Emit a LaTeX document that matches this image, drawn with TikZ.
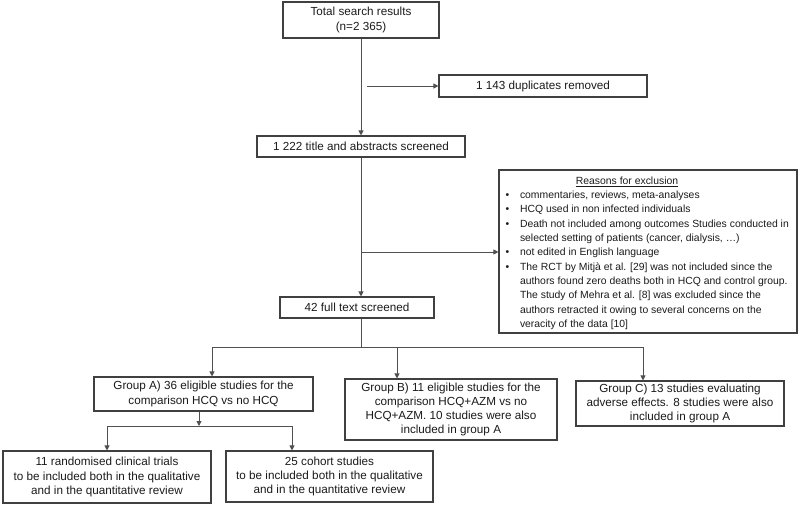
\documentclass[tikz,border=0pt]{standalone}
\usepackage{fontspec}
\setmainfont{Liberation Sans}
\usetikzlibrary{arrows.meta,calc}
\definecolor{boxc}{HTML}{404040}
\definecolor{linec}{HTML}{505050}
\definecolor{txt}{HTML}{1A1A1A}
\newcommand\itm{\par\hangindent=16pt\hangafter=1\noindent\makebox[16pt][l]{\hspace{1.5pt}•}}
\begin{document}
\begin{tikzpicture}[x=1pt,y=-1pt,
  box/.style={draw=boxc, line width=1.1pt, inner sep=0pt, align=center,
    font=\fontsize{11.7}{14.3}\selectfont, text=txt},
  conn/.style={draw=linec, line width=0.9pt},
  arr/.style={conn, -{Triangle[length=5pt,width=5pt]}}]
\useasboundingbox (0,0) rectangle (800,504);
\node[box, minimum width=156pt, minimum height=36pt] (total) at (361,20) {Total search results\\(n=2 365)};
\node[box, minimum width=208pt, minimum height=22pt] (dup) at (543,86) {1 143 duplicates removed};
\node[box, minimum width=208pt, minimum height=21pt] (scr) at (361,146.5) {1 222 title and abstracts screened};
\node[box, align=left, minimum width=298pt, minimum height=163pt] (rea) at (648,251.5) {\parbox[c][151pt][t]{288pt}{\fontsize{10.4}{14.3}\selectfont\raggedright
\vspace*{0.8pt}\noindent\makebox[246pt][c]{\underline{Reasons for exclusion}}
\itm commentaries, reviews, meta-analyses
\itm HCQ used in non infected individuals
\itm Death not included among outcomes Studies conducted in\newline selected setting of patients (cancer, dialysis, …)
\itm not edited in English language
\itm The RCT by Mitjà et al. [29] was not included since the\newline authors found zero deaths both in HCQ and control group.\newline The study of Mehra et al. [8] was excluded since the\newline authors retracted it owing to several concerns on the\newline veracity of the data [10]\par}};
\node[box, minimum width=154pt, minimum height=21pt] (ft) at (357,307.5) {42 full text screened};
\node[box, minimum width=219pt, minimum height=34pt] (ga) at (203.5,394) {Group A) 36 eligible studies for the\\comparison HCQ vs no HCQ};
\node[box, minimum width=212pt, minimum height=61pt] (gb) at (451,409.5) {Group B) 11 eligible studies for the\\comparison HCQ+AZM vs no\\HCQ+AZM. 10 studies were also\\included in group A};
\node[box, minimum width=208pt, minimum height=45pt] (gc) at (680,403.5) {Group C) 13 studies evaluating\\adverse effects. 8 studies were also\\included in group A};
\node[box, minimum width=208pt, minimum height=52pt] (rct) at (107,477) {11 randomised clinical trials\\to be included both in the qualitative\\and in the quantitative review};
\node[box, minimum width=207pt, minimum height=51pt] (coh) at (329.5,476.5) {25 cohort studies\\to be included both in the qualitative\\and in the quantitative review};
% connectors
\draw[arr] (total) -- (scr);
\coordinate (d0) at (367,86);
\draw[arr] (d0) -- (dup.west);
\draw[arr] (scr.south) -- (scr.south |- ft.north);
\coordinate (e0) at (361,252);
\draw[arr] (e0) -- (rea.west |- e0);
\coordinate (j1) at (361,347);
\draw[conn] (j1 |- ft.south) -- (j1);
\coordinate (ja) at (212,347);
\coordinate (jb) at (397,347);
\coordinate (jc) at (643,347);
\draw[conn] (ja) -- (jc);
\draw[arr] (ja) -- (ja |- ga.north);
\draw[arr] (jb) -- (jb |- gb.north);
\draw[arr] (jc) -- (jc |- gc.north);
\coordinate (k) at (199,426);
\coordinate (kl) at (107,426);
\coordinate (kr) at (292,426);
\draw[arr] (k |- ga.south) -- (k);
\draw[conn] (kl) -- (kr);
\draw[arr] (kl) -- (kl |- rct.north);
\draw[arr] (kr) -- (kr |- coh.north);
\end{tikzpicture}
\end{document}
